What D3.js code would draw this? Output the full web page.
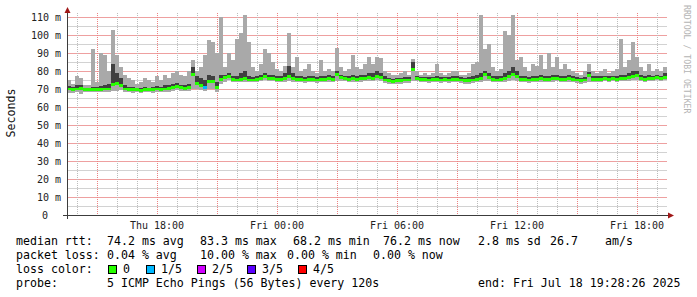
<!DOCTYPE html>
<html>
<head>
<meta charset="utf-8">
<script src="https://cdn.jsdelivr.net/npm/d3@7"></script>
<style>
  body { margin: 0; background: #fff; }
  svg { display: block; font-family: "DejaVu Sans Mono", monospace; }
</style>
</head>
<body>
<svg id="chart" width="697" height="297"></svg>
<script>
// samples every 12 minutes, Thu 17 Jul 13:30 -> Fri 18 Jul 19:30
const startTime = Date.UTC(2025, 6, 17, 13, 30);
const endTime = Date.UTC(2025, 6, 18, 19, 30);
const stepMs = 12 * 60 * 1000;

// median rtt (ms)
const rttMedian = [
  70, 69.5, 70, 70.5, 69.5, 69.5, 69.5, 69.5, 69.5, 70,
  70, 72.5, 73, 72, 70, 69.5, 69.5, 69.5, 69, 69.5,
  69.5, 69.5, 70, 69.5, 70, 70.5, 71, 71.5, 71, 70.5,
  71, 78, 73, 72, 71, 74, 74, 71, 75.5, 76.5,
  77, 75.5, 75, 75.5, 76, 75, 75, 75.5, 76, 77,
  76, 76, 75.5, 75.5, 76, 77, 76, 75.5, 75.5, 75,
  75.5, 75.5, 75, 75.5, 75.5, 76, 75.5, 78, 76.5, 76,
  75.5, 76, 75.5, 76, 76, 76.5, 76, 77, 76.5, 75,
  74.5, 74, 74.5, 74.5, 75, 75, 81, 76, 75.5, 75.5,
  75, 75.5, 75.5, 75, 75.5, 75, 75.5, 75.5, 75, 74.5,
  74.5, 75, 75.5, 76, 78, 76.5, 75.5, 75, 75.5, 76,
  77, 78, 77, 75.5, 75.5, 75, 75.5, 75.5, 76, 75.5,
  75.5, 76, 76, 75.5, 75.5, 76, 75.5, 75, 74.5, 75,
  77.5, 75.5, 75.5, 75.5, 76, 75.5, 76, 75.5, 76, 76,
  76.5, 77, 77.5, 76, 75.5, 76, 76, 76.5, 76, 76.5
];
// upper edge of the dark smoke (4th of 5 pings)
const rttHigh = [
  71.5, 71, 72, 72.5, 70.5, 70.5, 71, 71, 71.5, 72,
  73, 84, 79, 76, 72, 71, 71, 70.5, 70.5, 71,
  70.5, 71, 71.5, 71, 72, 72, 73, 73.5, 72.5, 72,
  73, 82, 77, 76, 75, 78, 77, 74, 78, 78,
  79, 77.5, 77, 79, 80, 77, 76.5, 77, 78, 79,
  78, 78, 77.5, 77.5, 79, 83, 79, 77, 77, 76.5,
  77, 77, 76.5, 77.5, 77, 78, 77, 80, 78, 77.5,
  77, 78, 77, 78, 78, 79, 79, 80, 79, 77,
  76, 75.5, 76, 76, 76.5, 76.5, 85, 77.5, 76.5, 76.5,
  76.5, 76.5, 77, 76.5, 76.5, 76.5, 77, 77.5, 76.5, 76,
  76.5, 77, 78, 79, 80, 79, 77.5, 77, 77, 79,
  80, 82, 80, 77.5, 77, 76.5, 77.5, 77, 78, 77,
  77.5, 78, 78, 77, 77.5, 78, 77, 76.5, 76, 76.5,
  79.5, 77, 77, 77, 77.5, 77, 77.5, 77.5, 78, 78,
  79, 80, 80, 78, 77, 78, 77.5, 78, 77.5, 79
];
// slowest ping
const rttMax = [
  75, 73, 77, 76, 72, 72.5, 92, 74, 90, 89,
  80, 103, 89, 82, 78, 76, 75, 73, 74, 76,
  75, 74, 77, 75, 78, 76, 79, 80, 78, 77,
  80, 86, 80, 82, 89, 97, 96, 90, 110, 82,
  90, 86, 98, 101, 111, 96, 82, 80, 84, 92,
  90, 85, 81, 80, 83, 101, 82, 88, 80, 81,
  84, 80, 79, 86, 80, 81, 80, 93, 82, 80,
  81, 89, 82, 81, 84, 88, 84, 88, 87, 80,
  79, 78, 78, 79, 80, 78, 86.5, 80, 78, 79,
  78, 79, 84, 79, 78, 79, 80, 80, 78, 78,
  79, 84, 85, 111, 92, 95, 82, 80, 81, 102,
  100, 111, 86, 88, 82, 80, 84, 83, 89, 81,
  90, 82, 88, 81, 84, 81, 80, 79, 78, 80,
  84, 80, 79, 80, 81, 79, 80, 81, 98, 82,
  86, 96, 88, 82, 80, 84, 80, 81, 80, 82
];
// fastest ping
const rttLow = [
  68, 68, 68.5, 67.5, 68.5, 68.5, 68.5, 68.5, 68.5, 68.5,
  68.5, 69, 69, 69.5, 68.5, 68.5, 68, 68.5, 68, 68.5,
  68.5, 68, 68.5, 68.5, 68.5, 68.5, 69, 69.5, 69, 69,
  69, 70, 70, 69.5, 69, 70, 70, 68.5, 73, 74,
  75, 74, 74, 74, 74, 74, 74, 74, 74.5, 75,
  74.5, 74.5, 74, 74, 74, 74.5, 74, 74, 74, 73.5,
  74, 74, 73.5, 74, 74, 74, 74, 74.5, 74.5, 74.5,
  74, 74, 74, 74, 74.5, 74.5, 74.5, 75, 74.5, 73.5,
  73, 73, 73, 73, 73.5, 73.5, 74.5, 74.5, 74, 74,
  73.5, 74, 74, 73.5, 74, 73.5, 74, 74, 73.5, 73,
  73, 73.5, 74, 74, 74.5, 74.5, 74, 74, 74, 74,
  74.5, 75, 74.5, 74, 74, 73.5, 74, 74, 74, 74,
  74, 74, 74.5, 74, 74, 74, 74, 73.5, 73, 73.5,
  74, 74, 74, 74, 74.5, 74, 74.5, 74, 74.5, 74.5,
  74.5, 75, 75, 74.5, 74, 74.5, 74.5, 75, 74.5, 75
];
// [sample index, pings lost of 5]
const lossSamples = [[34, 1]];

const lossLabels = ["0", "1/5", "2/5", "3/5", "4/5"];
const lossColors = ["#26ff00", "#00b8ff", "#d000ff", "#5a00ff", "#ff0000"];
const yTicks = d3.range(0, 111, 10);
const yGrid = d3.range(0, 111, 5);

const legendRtt = [["median rtt:", 16], ["74.2 ms avg", 107], ["83.3 ms max", 200], ["68.2 ms min", 293],
  ["76.2 ms now", 383], ["2.8 ms sd", 478], ["26.7", 550], ["am/s", 605]];
const legendLoss = [["packet loss:", 16], ["0.04 % avg", 107], ["10.00 % max", 200],
  ["0.00 % min", 287], ["0.00 % now", 373]];
const legendProbe = [["probe:", 16], ["5 ICMP Echo Pings (56 Bytes) every 120s", 107],
  ["end: Fri Jul 18 19:28:26 2025", 478]];

const svg = d3.select("#chart");
const x = d3.scaleUtc().domain([startTime, endTime]).range([67, 667]);
const y = d3.scaleLinear().domain([0, 110]).range([215, 17]);
const t = i => new Date(startTime + i * stepMs);

// grid: vertical dotted, horizontal as 1px rects
const majorColor = "#ec8282", minorColor = "#bcbcbc";
const grid = svg.append("g").attr("shape-rendering", "crispEdges");
grid.selectAll("rect.h").data(yGrid).join("rect")
  .attr("class", "h")
  .attr("x", 68).attr("width", 599)
  .attr("y", d => Math.round(y(d))).attr("height", 1)
  .attr("fill", d => d % 10 === 0 ? "#eea0a0" : "#d2d2d2");
grid.selectAll("line.v").data(x.ticks(d3.utcHour.every(1))).join("line")
  .attr("class", "v")
  .attr("x1", d => Math.round(x(d)) + 0.5).attr("x2", d => Math.round(x(d)) + 0.5)
  .attr("y1", 13).attr("y2", 215)
  .attr("stroke", d => d.getUTCHours() % 3 === 0 ? majorColor : minorColor)
  .attr("stroke-dasharray", "1,1");

// smoke
svg.append("clipPath").attr("id", "plot").append("rect").attr("x", 67).attr("y", 12).attr("width", 600).attr("height", 203);
const plot = svg.append("g").attr("clip-path", "url(#plot)").attr("shape-rendering", "crispEdges");
const w = i => x(t(i + 1)) - x(t(i));

plot.selectAll("rect.light").data(rttMax).join("rect")
  .attr("class", "light")
  .attr("x", (d, i) => x(t(i))).attr("width", (d, i) => w(i))
  .attr("y", d => y(d)).attr("height", (d, i) => y(rttLow[i]) - y(d))
  .attr("fill", "#a9a9a9");

plot.selectAll("rect.dark").data(rttHigh).join("rect")
  .attr("class", "dark")
  .attr("x", (d, i) => x(t(i))).attr("width", (d, i) => w(i))
  .attr("y", d => y(d)).attr("height", (d, i) => y(rttMedian[i] - 0.8) - y(d))
  .attr("fill", "#404040");

// median band coloured by loss
const lossAt = new Map(lossSamples);
plot.selectAll("rect.med").data(rttMedian).join("rect")
  .attr("class", "med")
  .attr("x", (d, i) => x(t(i))).attr("width", (d, i) => w(i))
  .attr("y", d => y(d + 0.8)).attr("height", d => y(d - 0.8) - y(d + 0.8))
  .attr("fill", (d, i) => lossColors[lossAt.get(i) || 0]);

// axes
const axisColor = "#3c3c3c", arrowColor = "#a01818";
svg.append("line").attr("x1", 63).attr("x2", 669).attr("y1", 215.5).attr("y2", 215.5).attr("stroke", axisColor);
svg.append("line").attr("x1", 67.5).attr("x2", 67.5).attr("y1", 219).attr("y2", 11).attr("stroke", axisColor);
svg.append("path").attr("d", "M668,212.5L674,215.5L668,218.5Z").attr("fill", arrowColor);
svg.append("path").attr("d", "M64.5,13L67.5,7L70.5,13Z").attr("fill", arrowColor);

svg.append("g").selectAll("text").data(yTicks).join("text")
  .attr("x", d => d === 0 ? 48 : 61).attr("y", d => y(d) + 3.5)
  .attr("text-anchor", "end").attr("font-size", 10).attr("fill", "#222")
  .text(d => d === 0 ? "0" : d + " m");

svg.append("g").selectAll("text").data(x.ticks(d3.utcHour.every(6))).join("text")
  .attr("x", d => x(d)).attr("y", 229)
  .attr("text-anchor", "middle").attr("font-size", 10).attr("fill", "#222")
  .text(d3.utcFormat("%a %H:%M"));

svg.append("text").attr("transform", "translate(15,113) rotate(-90)")
  .attr("text-anchor", "middle").attr("font-size", 11.6).attr("fill", "#111").text("Seconds");

svg.append("text").attr("transform", "translate(684,5) rotate(90)")
  .attr("font-size", 8.2).attr("fill", "#b4b4b4").text("RRDTOOL / TOBI OETIKER");

// legend
const legend = svg.append("g").attr("font-size", 11.6).attr("fill", "#000");
[[legendRtt, 245], [legendLoss, 259], [legendProbe, 287]].forEach(([items, by]) => {
  items.forEach(([s, lx]) => legend.append("text").attr("x", lx).attr("y", by).text(s));
});
legend.append("text").attr("x", 16).attr("y", 273).text("loss color:");
const boxX = [108, 146, 197, 247, 298];
lossLabels.forEach((lab, k) => {
  legend.append("rect").attr("x", boxX[k] + 0.5).attr("y", 265.5).attr("width", 8).attr("height", 8)
    .attr("fill", lossColors[k]).attr("stroke", "#000");
  legend.append("text").attr("x", boxX[k] + 15).attr("y", 273).text(lab);
});
</script>
</body>
</html>
